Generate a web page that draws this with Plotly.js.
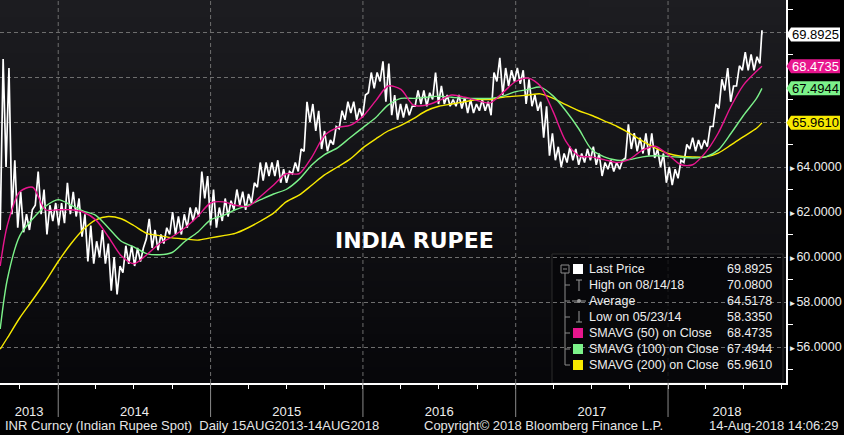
<!DOCTYPE html>
<html><head><meta charset="utf-8">
<script src="https://cdn.plot.ly/plotly-3.0.1.min.js"></script>
<style>html,body{margin:0;padding:0;background:#000;}#chart{width:844px;height:435px;}</style>
</head><body><div id="chart"></div>
<script>
// ---------- data ----------
const startDate = '2013-08-15';
const lastDate  = '2018-08-14';
// bi-weekly low / high of INR spot, starting 15 Aug 2013
const priceLow = [61.2,64.0,61.9,61.3,61.1,61.2,62.3,61.9,61.0,61.6,
61.4,61.5,61.9,61.8,60.9,59.8,59.7,60.0,59.7,58.5,
58.335,59.3,59.7,59.6,59.8,60.8,60.4,60.3,60.6,61.0,
61.0,61.0,61.3,61.6,61.8,62.6,61.4,61.3,61.6,61.8,
62.1,62.3,62.1,62.4,63.1,63.4,63.6,63.6,63.3,63.3,
63.7,63.8,64.7,66.0,65.6,64.8,64.7,65.0,65.7,66.1,
66.4,66.1,66.2,67.3,67.5,67.8,66.9,66.3,66.1,66.2,
66.3,66.7,66.8,66.7,67.0,66.8,66.8,66.7,66.7,66.6,
66.4,66.4,66.5,66.5,66.3,67.8,67.2,67.6,67.8,67.7,
66.8,66.7,66.5,65.3,64.5,64.3,64.0,64.2,64.3,64.1,
64.2,64.3,64.1,63.6,63.9,63.8,63.9,64.4,64.8,64.7,
64.6,64.5,64.4,64.0,63.3,63.2,63.5,64.2,64.8,64.7,
64.8,64.9,65.8,66.6,67.4,66.9,67.6,68.3,68.3,68.3,
68.6];
const priceHigh = [68.8,68.4,64.3,62.9,61.9,62.1,63.8,63.0,62.3,62.4,
62.4,63.3,62.9,62.6,61.9,61.4,60.7,61.2,60.6,60.0,
59.6,60.5,60.5,60.4,60.4,61.7,61.2,61.0,61.3,62.0,
61.8,61.9,62.2,62.2,63.8,63.6,63.0,62.2,62.6,62.5,
63.0,62.9,62.8,63.3,64.2,64.2,64.2,64.3,63.9,63.8,
64.2,64.8,66.9,66.8,66.5,65.6,65.2,65.8,66.5,66.9,
66.9,66.6,67.2,68.2,68.2,68.7,68.6,67.2,66.8,66.8,
66.7,67.4,67.4,67.3,68.2,67.6,67.2,67.0,67.2,67.1,
67.0,66.8,67.0,66.9,68.2,68.85,68.4,68.3,68.4,68.3,
67.9,67.2,66.9,66.7,65.5,64.9,64.6,64.9,64.8,64.6,
64.8,64.9,64.6,64.2,64.3,64.2,64.3,65.9,65.5,65.3,
65.5,65.5,64.8,64.6,64.0,63.9,64.3,65.0,65.3,65.2,
65.2,65.8,66.8,67.9,68.4,67.6,68.5,69.1,69.0,68.9,
70.08];
const lastPrice = 69.8925;
const averagePrice = 64.5178;
// moving averages: 15 Aug 2013, 1st of each month Sep 2013 .. Aug 2018, 14 Aug 2018
const sma50 = [59.6,
 61.4,62.9,63.1,62.1,
 62.1,62.1,62.0,61.65,60.9,60.05,59.7,60.1,60.6,60.9,61.3,61.8,
 62.4,62.45,62.3,62.25,62.7,63.2,63.7,63.7,64.45,65.4,65.75,65.85,
 66.25,66.95,67.6,67.45,66.75,66.75,66.95,67.2,67.1,66.95,66.85,67.3,
 67.8,67.95,67.6,66.45,65.15,64.5,64.45,64.33,64.2,64.35,64.75,64.92,
 64.55,64.1,64.1,64.65,65.5,66.7,67.65,68.25,
 68.4735];
const sma100 = [56.8,
 59.0,60.95,61.7,62.25,
 62.55,62.3,62.05,61.85,61.3,60.7,60.45,60.15,60.1,60.2,60.7,61.1,
 61.65,61.85,62.1,62.3,62.55,62.8,63.0,63.45,64.1,64.55,64.85,65.3,
 65.75,66.2,66.75,67.05,67.05,67.1,67.15,67.1,67.05,67.05,67.05,67.15,
 67.35,67.45,67.55,67.15,66.5,65.7,64.8,64.45,64.3,64.33,64.45,64.5,
 64.47,64.43,64.4,64.45,64.75,65.5,66.3,67.05,
 67.4944];
const sma200 = [55.9,
 56.4,57.3,58.1,58.9,
 59.8,60.6,61.2,61.65,61.8,61.7,61.4,61.05,60.95,60.85,60.8,60.75,
 60.85,60.95,61.05,61.3,61.6,61.95,62.45,62.75,63.2,63.65,64.0,64.35,
 64.85,65.25,65.6,65.85,66.15,66.5,66.7,66.8,66.9,67.0,67.0,67.1,
 67.15,67.2,67.25,67.05,66.77,66.5,66.3,66.05,65.8,65.5,65.15,64.85,
 64.6,64.48,64.45,64.45,64.62,64.98,65.35,65.72,
 65.961];
const yearLabels = ['2013','2014','2015','2016','2017','2018'];
const yTickVals = [56,58,60,62,64,66,68,70];
const yMinorVals = [55,57,59,61,63,65,67,69,71];
const legendLabels = ['Last Price','High on 08/14/18','Average','Low on 05/23/14',
  'SMAVG (50) on Close','SMAVG (100) on Close','SMAVG (200) on Close'];

// ---------- colours ----------
const C_PRICE = '#ffffff', C50 = '#e8168e', C100 = '#7cf28a', C200 = '#f7e900';

// ---------- geometry helpers ----------
const W = 786, H = 383;                 // plot area in px
const P = x => x / W, Q = y => 1 - y / H;
const DAY = 86400000;
const t0 = Date.UTC(2013, 7, 15), tLast = Date.UTC(2018, 7, 14);
const iso = t => new Date(t).toISOString().slice(0, 19).replace('T', ' ');
const xStart = t0 - 0.5 * DAY, xEnd = t0 + 1882.6 * DAY;

// price zig-zag (low, high per two weeks)
const px = [], py = [];
for (let k = 0; k < priceLow.length; k++) {
  px.push(iso(Math.min(t0 + 14 * k * DAY, tLast))); py.push(priceLow[k]);
  px.push(iso(Math.min(t0 + (14 * k + 7) * DAY, tLast))); py.push(priceHigh[k]);
}
px.push(iso(tLast)); py.push(lastPrice);

// moving average dates
const maDates = [startDate];
for (let i = 0; i < 60; i++) { const m = 8 + i; maDates.push(iso(Date.UTC(2013 + Math.floor(m / 12), m % 12, 1))); }
maDates.push(lastDate);

// year label positions (middle of the visible part of each year)
const yearMid = yearLabels.map(y => {
  const a = Math.max(Date.UTC(+y, 0, 1), xStart), b = Math.min(Date.UTC(+y + 1, 0, 1), xEnd);
  return iso((a + b) / 2);
});

const FONT = 'Liberation Sans, Arial, sans-serif';
const shapes = [], annotations = [];

// year separators + dashed vertical grid
yearLabels.slice(1).forEach(y => {
  const d = iso(Date.UTC(+y, 0, 1));
  shapes.push({type: 'line', xref: 'x', yref: 'paper', x0: d, x1: d, y0: 0, y1: 1, layer: 'below',
    line: {color: '#6e6e6e', width: 1, dash: '4px,3px'}});
  shapes.push({type: 'line', xref: 'x', yref: 'paper', x0: d, x1: d, y0: -34 / H, y1: 0, layer: 'above',
    line: {color: '#8a8a8a', width: 1}});
});

// legend box
shapes.push({type: 'rect', xref: 'paper', yref: 'paper', x0: P(552), x1: P(783), y0: Q(383), y1: Q(254),
  layer: 'between', fillcolor: 'rgba(6,6,9,0.8)', line: {color: '#2c2c2c', width: 1}});
const rows = [269, 285, 301, 317, 333, 349, 365];
const G = '#8c8c8c';
shapes.push({type: 'line', xref: 'paper', yref: 'paper', x0: P(565), x1: P(565), y0: Q(273), y1: Q(365), line: {color: G, width: 1}});
rows.slice(1).forEach(r => shapes.push({type: 'line', xref: 'paper', yref: 'paper', x0: P(565), x1: P(570), y0: Q(r), y1: Q(r), line: {color: G, width: 1}}));
shapes.push({type: 'rect', xref: 'paper', yref: 'paper', x0: P(561), x1: P(569), y0: Q(273), y1: Q(265), line: {color: G, width: 1}});
shapes.push({type: 'line', xref: 'paper', yref: 'paper', x0: P(563), x1: P(567), y0: Q(269), y1: Q(269), line: {color: G, width: 1}});
const sq = [[0, C_PRICE], [4, C50], [5, C100], [6, C200]];
sq.forEach(([i, c]) => shapes.push({type: 'rect', xref: 'paper', yref: 'paper', x0: P(573), x1: P(583),
  y0: Q(rows[i] + 5), y1: Q(rows[i] - 5), fillcolor: c, line: {width: 0}}));
// high marker
shapes.push({type: 'line', xref: 'paper', yref: 'paper', x0: P(579), x1: P(579), y0: Q(rows[1] + 6), y1: Q(rows[1] - 5), line: {color: '#9a9a9a', width: 1}});
shapes.push({type: 'line', xref: 'paper', yref: 'paper', x0: P(576), x1: P(582), y0: Q(rows[1] - 5), y1: Q(rows[1] - 5), line: {color: '#9a9a9a', width: 1}});
// average marker
shapes.push({type: 'line', xref: 'paper', yref: 'paper', x0: P(572), x1: P(586), y0: Q(rows[2]), y1: Q(rows[2]), line: {color: '#9a9a9a', width: 1}});
shapes.push({type: 'circle', xref: 'paper', yref: 'paper', x0: P(577), x1: P(581), y0: Q(rows[2] + 2), y1: Q(rows[2] - 2), fillcolor: '#9a9a9a', line: {width: 0}});
// low marker
shapes.push({type: 'line', xref: 'paper', yref: 'paper', x0: P(579), x1: P(579), y0: Q(rows[3] + 5), y1: Q(rows[3] - 6), line: {color: '#9a9a9a', width: 1}});
shapes.push({type: 'line', xref: 'paper', yref: 'paper', x0: P(576), x1: P(582), y0: Q(rows[3] + 5), y1: Q(rows[3] + 5), line: {color: '#9a9a9a', width: 1}});

const hi = Math.max(...priceHigh), lo = Math.min(...priceLow);
const legendValues = [lastPrice, hi, averagePrice, lo, sma50[sma50.length - 1], sma100[sma100.length - 1], sma200[sma200.length - 1]];
const LF = {family: FONT, size: 12.5, color: '#eeeeee'};
legendLabels.forEach((t, i) => {
  annotations.push({xref: 'paper', yref: 'paper', x: P(587), y: Q(rows[i]), xanchor: 'left', yanchor: 'middle',
    text: t, showarrow: false, font: LF});
  annotations.push({xref: 'paper', yref: 'paper', x: P(774), y: Q(rows[i]), xanchor: 'right', yanchor: 'middle',
    text: legendValues[i].toFixed(4), showarrow: false, font: LF});
});

// last value tags on the right axis
const tags = [[lastPrice, C_PRICE, '#000'], [sma50[sma50.length - 1], C50, '#fff'],
  [sma100[sma100.length - 1], C100, '#000'], [sma200[sma200.length - 1], C200, '#000']];
tags.forEach(([v, c, tc]) => {
  shapes.push({type: 'path', xref: 'paper', yref: 'y', ysizemode: 'pixel', yanchor: v, layer: 'above',
    path: `M${P(786.5)},0 L${P(791)},7 L${P(840)},7 L${P(840)},-7 L${P(791)},-7 Z`,
    fillcolor: c, line: {width: 0}});
  annotations.push({xref: 'paper', yref: 'y', x: P(815.5), y: v, xanchor: 'center', yanchor: 'middle',
    text: v.toFixed(4), showarrow: false, font: {family: FONT, size: 13, color: tc}});
});

// title and footer
annotations.push({xref: 'paper', yref: 'paper', x: P(414), y: Q(240), xanchor: 'center', yanchor: 'middle',
  text: '<b>INDIA RUPEE</b>', showarrow: false, font: {family: 'DejaVu Sans, sans-serif', size: 22, color: '#ffffff'}});
const foot = {family: FONT, size: 13, color: '#e6e6e6'};
annotations.push({xref: 'paper', yref: 'paper', x: P(3), y: Q(425), xanchor: 'left', yanchor: 'middle', showarrow: false,
  text: 'INR Curncy (Indian Rupee Spot)  Daily 15AUG2013-14AUG2018', font: foot});
annotations.push({xref: 'paper', yref: 'paper', x: P(422), y: Q(425), xanchor: 'left', yanchor: 'middle', showarrow: false,
  text: 'Copyright© 2018 Bloomberg Finance L.P.', font: foot});
annotations.push({xref: 'paper', yref: 'paper', x: P(840), y: Q(425), xanchor: 'right', yanchor: 'middle', showarrow: false,
  text: '14-Aug-2018 14:06:29', font: foot});

// gradient background for plot area
const cv = document.createElement('canvas'); cv.width = 2; cv.height = 256;
const g2 = cv.getContext('2d'); const grd = g2.createLinearGradient(0, 0, 0, 256);
grd.addColorStop(0, '#1d1d21'); grd.addColorStop(1, '#07070a');
g2.fillStyle = grd; g2.fillRect(0, 0, 2, 256);

const traces = [
  {type: 'scatter', mode: 'lines', x: px, y: py, line: {color: C_PRICE, width: 1.7}, hoverinfo: 'skip'},
  {type: 'scatter', mode: 'lines', x: maDates, y: sma200, line: {color: C200, width: 1.4, shape: 'spline', smoothing: 0.8}, hoverinfo: 'skip'},
  {type: 'scatter', mode: 'lines', x: maDates, y: sma100, line: {color: C100, width: 1.4, shape: 'spline', smoothing: 0.8}, hoverinfo: 'skip'},
  {type: 'scatter', mode: 'lines', x: maDates, y: sma50, line: {color: C50, width: 1.4, shape: 'spline', smoothing: 0.8}, hoverinfo: 'skip'}
];

const layout = {
  width: 844, height: 435, showlegend: false,
  margin: {l: 0, r: 58, t: 0, b: 52},
  paper_bgcolor: '#000000', plot_bgcolor: '#121216',
  images: [{source: cv.toDataURL(), xref: 'paper', yref: 'paper', x: 0, y: 1, sizex: 1, sizey: 1,
    sizing: 'stretch', layer: 'below', xanchor: 'left', yanchor: 'top'}],
  xaxis: {type: 'date', range: [iso(xStart), iso(xEnd)], tickmode: 'array', tickvals: yearMid, ticktext: yearLabels,
    ticks: '', showgrid: false, zeroline: false, showline: true, linecolor: '#ffffff', linewidth: 2,
    tickfont: {family: FONT, size: 13, color: '#eeeeee'}, ticklabelstandoff: 15,
    minor: {dtick: 'M3', tick0: '2013-10-01', ticks: 'outside', ticklen: 4, tickcolor: '#ffffff', tickwidth: 1, showgrid: false}},
  yaxis: {side: 'right', range: [54.4, 71.422], tickmode: 'array', tickvals: yTickVals,
    ticktext: yTickVals.map(v => v >= 66 ? '' : '<span style="font-size:8px">\u25BA</span>' + v.toFixed(4)),
    ticks: '', showgrid: true, gridcolor: '#6e6e6e', gridwidth: 1, griddash: '4px,3px', zeroline: false,
    showline: true, linecolor: '#ffffff', linewidth: 2, ticklabelstandoff: -2,
    tickfont: {family: FONT, size: 12.5, color: '#eeeeee'},
    minor: {tickmode: 'array', tickvals: yMinorVals, ticks: 'outside', ticklen: 5, tickcolor: '#ffffff', tickwidth: 1, showgrid: false}},
  shapes: shapes, annotations: annotations
};
Plotly.newPlot('chart', traces, layout, {displayModeBar: false, staticPlot: true});
</script></body></html>
